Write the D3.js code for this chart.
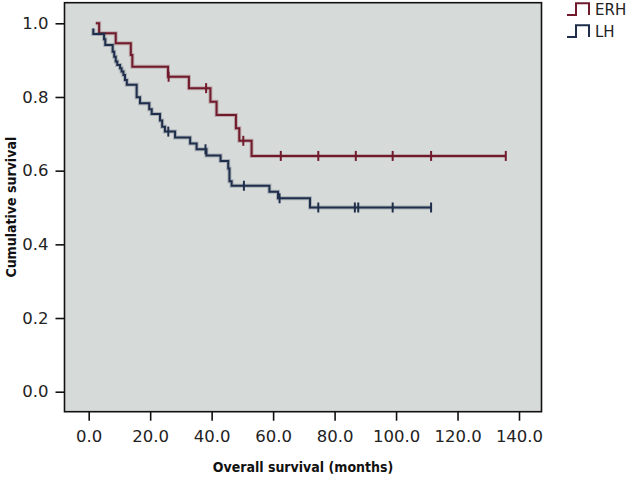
<!DOCTYPE html>
<html><head><meta charset="utf-8">
<script src="https://cdn.jsdelivr.net/npm/d3@7/dist/d3.min.js"></script>
<style>body{margin:0;background:#fff}svg{display:block}</style>
</head><body>
<svg id="c" width="628" height="477"></svg>
<script>
// ---- data (months, cumulative survival) ----
const groups = ["ERH", "LH"];
const erhStart = [2.3, 1.0];
const erhEvents = [[3.4,0.973],[8.8,0.946],[13.7,0.914],[14.2,0.882],[25.8,0.855],[32.6,0.824],[39.6,0.787],[41.6,0.751],[47.9,0.715],[49.0,0.681],[53.0,0.640]];
const erhCensors = [26.0, 38.2, 50.3, 62.5, 74.7, 86.9, 98.9, 111.4, 135.7];
const lhStart = [1.5, 0.986];
const lhEvents = [[1.5,0.971],[5.0,0.957],[5.4,0.941],[7.8,0.923],[8.3,0.909],[8.8,0.896],[9.3,0.887],[10.2,0.878],[10.7,0.869],[11.3,0.860],[11.8,0.846],[12.4,0.833],[15.6,0.799],[16.7,0.783],[19.7,0.767],[20.5,0.754],[23.2,0.736],[23.9,0.719],[24.8,0.706],[28.1,0.690],[33.0,0.674],[35.1,0.658],[38.3,0.641],[42.9,0.626],[45.4,0.606],[45.8,0.571],[46.5,0.559],[58.8,0.543],[61.6,0.525],[72.0,0.500]];
const lhCensors = [25.9, 38.0, 50.5, 62.1, 74.7, 86.6, 87.7, 98.9, 111.4];
const xTicks = [0, 20, 40, 60, 80, 100, 120, 140];
const yTicks = [0, 0.2, 0.4, 0.6, 0.8, 1.0];
const colors = {ERH: "#701a2b", LH: "#1f2e4b"};

const svg = d3.select("#c");
const frame = {l: 64.5, r: 541.5, t: 2.7, b: 411.7};
const x = d3.scaleLinear().domain([0, 140]).range([88.7, 519]);
const y = d3.scaleLinear().domain([0, 1]).range([391.7, 23.3]);

svg.append("rect").attr("x", frame.l).attr("y", frame.t)
  .attr("width", frame.r - frame.l).attr("height", frame.b - frame.t)
  .attr("fill", "#d6dad8").attr("stroke", "none");

// axes
const xAxis = d3.axisBottom(x).tickValues(xTicks).tickFormat(d3.format(".1f")).tickSize(9).tickPadding(10);
const gx = svg.append("g").attr("transform", `translate(0,${frame.b})`).call(xAxis);
const yAxis = d3.axisLeft(y).tickValues(yTicks).tickFormat(d3.format(".1f")).tickSize(9).tickPadding(7);
const gy = svg.append("g").attr("transform", `translate(${frame.l},0)`).call(yAxis);
[gx, gy].forEach(g => {
  g.select(".domain").remove();
  g.selectAll(".tick line").attr("stroke", "#111").attr("stroke-width", 1.6);
  g.selectAll(".tick text").attr("fill", "#222").style("font-family", "DejaVu Sans").style("font-size", "16.5px");
});
gx.selectAll(".tick text").attr("dy", "0.71em");

svg.append("rect").attr("x", frame.l).attr("y", frame.t)
  .attr("width", frame.r - frame.l).attr("height", frame.b - frame.t)
  .attr("fill", "none").attr("stroke", "#111").attr("stroke-width", 1.6);

// curves
function stepPoints(start, events, censors) {
  const pts = [start];
  let s = start[1];
  events.forEach(([t, v]) => { pts.push([t, s]); pts.push([t, v]); s = v; });
  const last = Math.max(events[events.length - 1][0], d3.max(censors));
  pts.push([last, s]);
  return pts;
}
function survAt(start, events, t) {
  let s = start[1];
  events.forEach(([et, v]) => { if (et <= t) s = v; });
  return s;
}
const line = d3.line().x(d => x(d[0])).y(d => y(d[1]));
const series = [
  {name: "ERH", start: erhStart, events: erhEvents, censors: erhCensors},
  {name: "LH", start: lhStart, events: lhEvents, censors: lhCensors}
];
series.forEach(sr => {
  const c = colors[sr.name];
  const pts = stepPoints(sr.start, sr.events, sr.censors);
  svg.append("path").attr("d", line(pts)).attr("fill", "none")
    .attr("stroke", c).attr("stroke-opacity", 0.25).attr("stroke-width", 4);
  svg.append("path").attr("d", line(pts)).attr("fill", "none")
    .attr("stroke", c).attr("stroke-width", 2);
  svg.append("g").selectAll("line").data(sr.censors).join("line")
    .attr("x1", d => x(d)).attr("x2", d => x(d))
    .attr("y1", d => y(survAt(sr.start, sr.events, d)) - 5)
    .attr("y2", d => y(survAt(sr.start, sr.events, d)) + 5)
    .attr("stroke", c).attr("stroke-width", 2);
});

// legend
groups.forEach((g, i) => {
  const by = 15 + i * 22, ty = 3.3 + i * 22;
  svg.append("path")
    .attr("d", `M567,${by}H576V${ty}H589V${by}`)
    .attr("fill", "none").attr("stroke", colors[g]).attr("stroke-width", 2);
  svg.append("text").attr("x", 595).attr("y", by).text(g)
    .attr("fill", "#222").style("font-family", "DejaVu Sans").style("font-size", "15px");
});

// titles
svg.append("text").attr("x", (frame.l + frame.r) / 2).attr("y", 472)
  .attr("text-anchor", "middle").text("Overall survival (months)")
  .attr("fill", "#111").style("font-family", "DejaVu Sans Condensed, DejaVu Sans").style("font-weight", "bold").style("font-size", "14px");
svg.append("text").attr("transform", `translate(16,${(frame.t + frame.b) / 2}) rotate(-90)`)
  .attr("text-anchor", "middle").text("Cumulative survival")
  .attr("fill", "#111").style("font-family", "DejaVu Sans Condensed, DejaVu Sans").style("font-weight", "bold").style("font-size", "14px");
</script>
</body></html>
